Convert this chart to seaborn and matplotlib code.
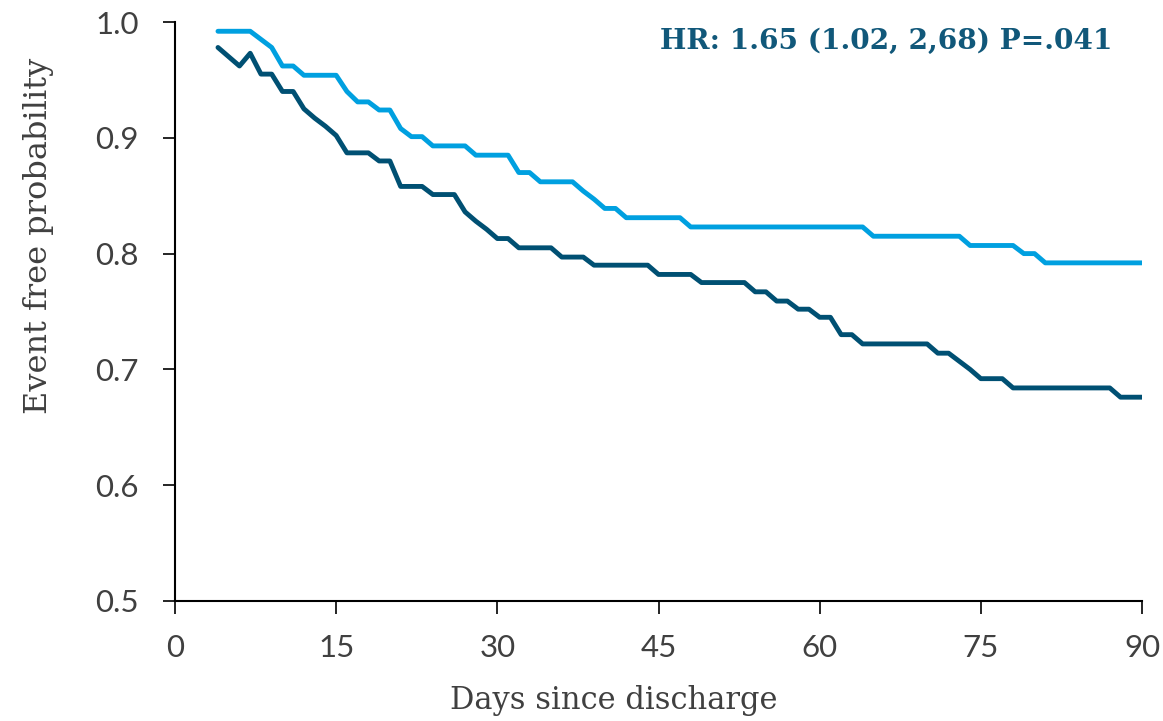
import matplotlib
matplotlib.use("Agg")
import matplotlib.pyplot as plt
import seaborn as sns
import pandas as pd

days = list(range(4, 91))

group_names = ["Group A", "Group B"]

light_values = [
    0.992, 0.992, 0.992, 0.992, 0.985, 0.978, 0.962, 0.962, 0.954, 0.954,
    0.954, 0.954, 0.940, 0.931, 0.931, 0.924, 0.924, 0.908, 0.901, 0.901,
    0.893, 0.893, 0.893, 0.893, 0.885, 0.885, 0.885, 0.885, 0.870, 0.870,
    0.862, 0.862, 0.862, 0.862, 0.854, 0.847, 0.839, 0.839, 0.831, 0.831,
    0.831, 0.831, 0.831, 0.831, 0.823, 0.823, 0.823, 0.823, 0.823, 0.823,
    0.823, 0.823, 0.823, 0.823, 0.823, 0.823, 0.823, 0.823, 0.823, 0.823,
    0.823, 0.815, 0.815, 0.815, 0.815, 0.815, 0.815, 0.815, 0.815, 0.815,
    0.807, 0.807, 0.807, 0.807, 0.807, 0.800, 0.800, 0.792, 0.792, 0.792,
    0.792, 0.792, 0.792, 0.792, 0.792, 0.792, 0.792,
]

dark_values = [
    0.978, 0.970, 0.962, 0.973, 0.955, 0.955, 0.940, 0.940, 0.925, 0.917,
    0.910, 0.902, 0.887, 0.887, 0.887, 0.880, 0.880, 0.858, 0.858, 0.858,
    0.851, 0.851, 0.851, 0.836, 0.828, 0.821, 0.813, 0.813, 0.805, 0.805,
    0.805, 0.805, 0.797, 0.797, 0.797, 0.790, 0.790, 0.790, 0.790, 0.790,
    0.790, 0.782, 0.782, 0.782, 0.782, 0.775, 0.775, 0.775, 0.775, 0.775,
    0.767, 0.767, 0.759, 0.759, 0.752, 0.752, 0.745, 0.745, 0.730, 0.730,
    0.722, 0.722, 0.722, 0.722, 0.722, 0.722, 0.722, 0.714, 0.714, 0.707,
    0.700, 0.692, 0.692, 0.692, 0.684, 0.684, 0.684, 0.684, 0.684, 0.684,
    0.684, 0.684, 0.684, 0.684, 0.676, 0.676, 0.676,
]

x_ticks = [0, 15, 30, 45, 60, 75, 90]
y_ticks = [0.5, 0.6, 0.7, 0.8, 0.9, 1.0]
y_tick_labels = ["0.5", "0.6", "0.7", "0.8", "0.9", "1.0"]
annotation = "HR: 1.65 (1.02, 2,68) P=.041"
x_label = "Days since discharge"
y_label = "Event free probability"

light_color = "#00A0E0"
dark_color = "#005073"
text_color = "#11587A"
gray = "#404040"

df = pd.concat([
    pd.DataFrame({"day": days, "prob": light_values, "group": group_names[0]}),
    pd.DataFrame({"day": days, "prob": dark_values, "group": group_names[1]}),
], ignore_index=True)

sns.set_style("ticks")
plt.rcParams["font.family"] = ["Lato", "DejaVu Sans"]

fig = plt.figure(figsize=(11.63, 7.21), dpi=100)
ax = fig.add_axes([175 / 1163, 1 - 601 / 721, 967 / 1163, 579 / 721])

sns.lineplot(data=df, x="day", y="prob", hue="group",
             palette={group_names[0]: light_color, group_names[1]: dark_color},
             linewidth=3.5, legend=False, ax=ax)

ax.set_xlim(0, 90)
ax.set_ylim(0.5, 1.0)
ax.set_xticks(x_ticks)
ax.set_yticks(y_ticks)
ax.set_yticklabels(y_tick_labels)

for side in ["top", "right"]:
    ax.spines[side].set_visible(False)
for side in ["left", "bottom"]:
    ax.spines[side].set_linewidth(1.5)
    ax.spines[side].set_color("black")

ax.tick_params(axis="both", direction="out", length=9, width=1.2,
               color="black", labelsize=22.5, labelcolor=gray)
ax.tick_params(axis="y", pad=17)
ax.tick_params(axis="x", pad=15)

ax.set_xlabel(x_label, family=["DejaVu Serif"], fontsize=22, color=gray, labelpad=16)
ax.set_ylabel(y_label, family=["DejaVu Serif"], fontsize=23, color=gray, labelpad=30)
ax.xaxis.label.set_x(0.454)
ax.yaxis.label.set_y(0.630)

ax.text(87.2, 0.977, annotation, ha="right", va="baseline",
        family=["DejaVu Serif"], fontweight="bold", fontsize=20.2, color=text_color)

fig.savefig("out.png", dpi=100)
